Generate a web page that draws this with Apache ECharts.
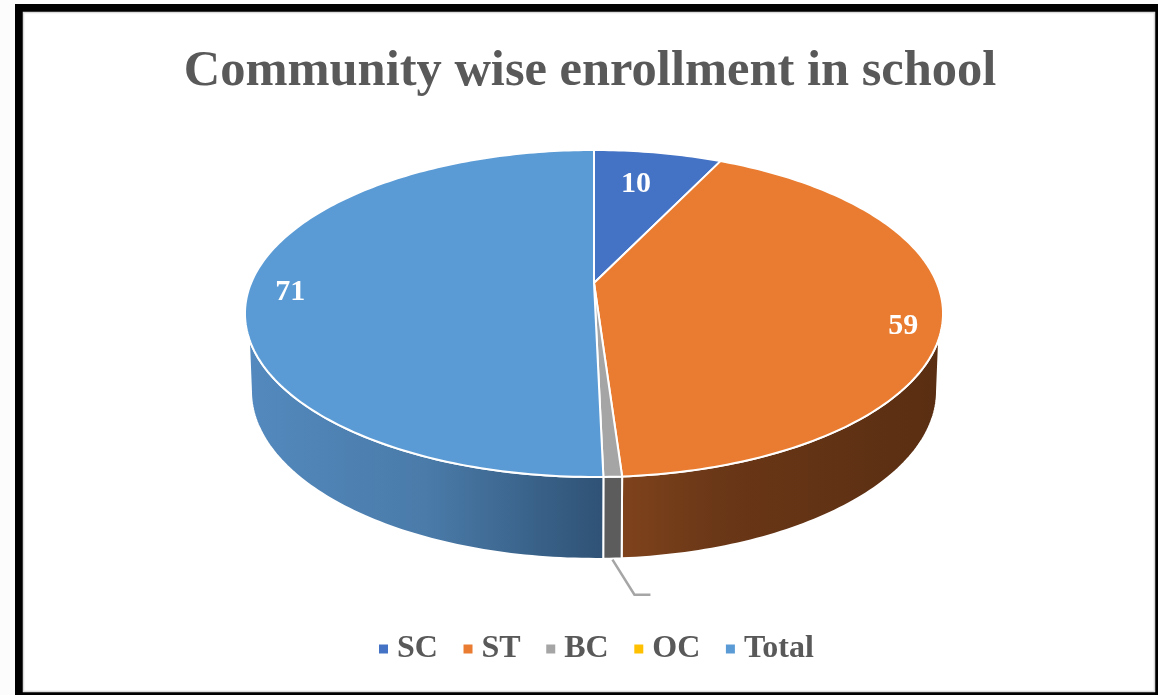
<!DOCTYPE html>
<html>
<head>
<meta charset="utf-8">
<style>html,body{margin:0;padding:0;background:#fcfcfc;}#c{width:1158px;height:695px;}</style>
<script src="https://cdn.jsdelivr.net/npm/echarts@6/dist/echarts.min.js"></script>
</head>
<body>
<div id="c"></div>
<script>
const titleText = 'Community wise enrollment in school';
const categories = ['SC', 'ST', 'BC', 'OC', 'Total'];
const values = [10, 59, 1, 0, 71];
const topColors = ['#4472c4', '#e97c30', '#a5a5a5', '#ffc000', '#5b9bd5'];
const showLabel = [true, true, false, false, true];

// Layout and styling (not data)
const serif = '"Liberation Serif", serif';
const TOP = { cx: 594, a: 342.9, y: 283, b: 157.8, k: 0.1865 };
const BOTTOM = { cx: 594, a: 337, y: 359.5, b: 162.2, k: 0.1865 };
const wallStops = {
  SC: [[0, '#2f4a80'], [1, '#2f4a80']],
  ST: [[0, '#7f431c'], [0.3, '#6a3717'], [1, '#5a2e12']],
  BC: [[0, '#5c5c5c'], [1, '#5c5c5c']],
  OC: [[0, '#a67c00'], [1, '#a67c00']],
  Total: [[0, '#5389be'], [0.5, '#4a7ba9'], [1, '#2f5275']]
};
const labelNudge = { SC: [-11, 9], ST: [32, 19], Total: [-29, 8] };
const LABEL_R = 0.8;
const WALL_UP = [109, 251], WALL_LOW = [101, 259];

const grandTotal = values.reduce((s, v) => s + v, 0);
function project(disc, deg, r) {
  const t = deg * Math.PI / 180, rr = r === undefined ? 1 : r;
  const u = Math.sin(t) * rr, v = -Math.cos(t) * rr, d = 1 - disc.k * v;
  return [disc.cx + disc.a * u / d, disc.y + disc.b * v / d];
}
function arcPoints(disc, from, to) {
  const pts = [], n = Math.max(2, Math.ceil(Math.abs(to - from)));
  for (let i = 0; i <= n; i++) pts.push(project(disc, from + (to - from) * i / n));
  return pts;
}
function makeRenderItem(idx) {
  return function (params, api) {
    const name = categories[idx], val = api.value(0);
    if (!val) return { type: 'group', children: [] };
    let before = 0;
    for (let i = 0; i < idx; i++) before += values[i];
    const start = before / grandTotal * 360, end = (before + val) / grandTotal * 360;
    const children = [];

    // Front wall
    const upFrom = Math.max(start, WALL_UP[0]), upTo = Math.min(end, WALL_UP[1]);
    const lowFrom = Math.max(start, WALL_LOW[0]), lowTo = Math.min(end, WALL_LOW[1]);
    if (upTo > upFrom) {
      const upper = arcPoints(TOP, upFrom, upTo), lower = arcPoints(BOTTOM, lowFrom, lowTo).reverse();
      const all = upper.concat(lower), xs = all.map(p => p[0]);
      children.push({
        type: 'polygon', shape: { points: all },
        style: {
          lineWidth: 2, stroke: '#ffffff', lineJoin: 'round',
          fill: {
            type: 'linear', global: true,
            x: Math.min.apply(null, xs), y: 0, x2: Math.max.apply(null, xs), y2: 0,
            colorStops: wallStops[name].map(s => ({ offset: s[0], color: s[1] }))
          }
        }
      });
    }
    // Top slice
    children.push({
      type: 'polygon',
      shape: { points: [project(TOP, 0, 0)].concat(arcPoints(TOP, start, end)) },
      style: { fill: topColors[idx], stroke: '#ffffff', lineWidth: 2, lineJoin: 'round' }
    });
    // Data label
    const mid = (start + end) / 2;
    if (showLabel[idx]) {
      const p = project(TOP, mid, LABEL_R), n = labelNudge[name];
      children.push({
        type: 'text',
        style: {
          text: String(val), x: p[0] + n[0], y: p[1] + n[1], fill: '#ffffff',
          fontFamily: serif, fontWeight: 'bold', fontSize: 30,
          align: 'center', verticalAlign: 'middle'
        }
      });
    } else {
      // Leader line whose label is not visible in the reference
      const p = project(BOTTOM, mid);
      children.push({
        type: 'polyline',
        shape: { points: [[p[0], p[1] + 1], [p[0] + 22, p[1] + 36], [p[0] + 38, p[1] + 36]] },
        style: { stroke: '#a6a6a6', lineWidth: 2.5, fill: null }
      });
    }
    return { type: 'group', children: children };
  };
}

const chart = echarts.init(document.getElementById('c'), null, { renderer: 'canvas' });
chart.setOption({
  animation: false,
  backgroundColor: 'transparent',
  title: {
    text: titleText, left: 585, textAlign: 'center', top: 41,
    textStyle: { fontFamily: serif, fontWeight: 'bold', fontSize: 50.5, color: '#595959' }
  },
  legend: {
    data: categories, top: 628, left: 374, icon: 'rect',
    itemWidth: 9, itemHeight: 9, itemGap: 25.6,
    textStyle: { fontFamily: serif, fontWeight: 'bold', fontSize: 32, color: '#595959', padding: [0, 0, 0, 4] }
  },
  graphic: [
    { type: 'rect', z: -10, silent: true, shape: { x: 15, y: 4, width: 1143, height: 691 }, style: { fill: '#000000' } },
    { type: 'rect', z: -9, silent: true, shape: { x: 23.5, y: 12.5, width: 1131, height: 679 }, style: { fill: '#ffffff', stroke: '#dcdcdc', lineWidth: 1.5 } }
  ],
  series: categories.map((name, i) => ({
    type: 'custom', name: name, coordinateSystem: 'none', silent: true,
    itemStyle: { color: topColors[i] },
    renderItem: makeRenderItem(i),
    data: [[values[i]]]
  }))
});
</script>
</body>
</html>
